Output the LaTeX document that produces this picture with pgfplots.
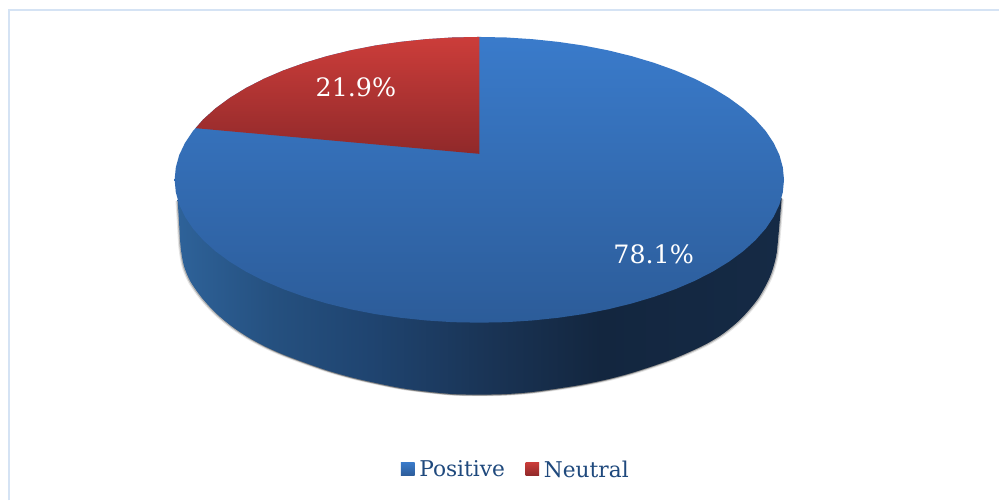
\documentclass[border=0pt]{standalone}
\usepackage{fontspec}
\setmainfont{DejaVu Serif}
\usepackage{pgfplots}
\usepackage{pgfplotstable}
\pgfplotsset{compat=1.18}
\definecolor{blueTop}{HTML}{3A7BCB}
\definecolor{blueBot}{HTML}{2C5C99}
\definecolor{redTop}{HTML}{CC3D3A}
\definecolor{redBot}{HTML}{90292A}
\definecolor{legendText}{HTML}{1F497D}
\definecolor{frameBlue}{HTML}{D5E3F4}
\definecolor{sideA}{HTML}{2E6299}
\definecolor{sideB}{HTML}{25507F}
\definecolor{sideC}{HTML}{1F4470}
\definecolor{sideD}{HTML}{1A3557}
\definecolor{sideE}{HTML}{13263F}
\definecolor{sideF}{HTML}{152A45}
\pgfdeclarehorizontalshading{sideshade}{100bp}{
 color(0bp)=(sideA);
 color(25bp)=(sideA);
 color(33bp)=(sideB);
 color(41bp)=(sideC);
 color(50bp)=(sideD);
 color(60bp)=(sideE);
 color(75bp)=(sideF);
 color(100bp)=(sideF)}
% Top face outline (image pixels)
\pgfplotstableread{
x y
784 180
782.8 192.5
779.4 204.8
773.6 217
765.6 228.9
755.4 240.4
743.1 251.5
728.8 262
712.6 271.9
694.7 281.1
675.1 289.5
653.9 297.1
631.5 303.8
607.9 309.6
583.3 314.4
557.9 318.1
532 320.8
505.6 322.5
479 323
452.4 322.5
426 320.8
400.1 318.1
374.7 314.4
350.1 309.6
326.5 303.8
304.1 297.1
282.9 289.5
263.3 281.1
245.4 271.9
229.2 262
214.9 251.5
202.6 240.4
192.4 228.9
184.4 217
178.6 204.8
175.2 192.5
174 180
175.2 167.5
178.6 155.2
184.4 143
192.4 131.1
202.6 119.6
214.9 108.5
229.2 98
245.4 88.1
263.3 78.9
282.9 70.5
304.1 62.9
326.5 56.2
350.1 50.4
374.7 45.6
400.1 41.9
426 39.2
452.4 37.5
479 37
505.6 37.5
532 39.2
557.9 41.9
583.3 45.6
607.9 50.4
631.5 56.2
653.9 62.9
675.1 70.5
694.7 78.9
712.6 88.1
728.8 98
743.1 108.5
755.4 119.6
765.6 131.1
773.6 143
779.4 155.2
782.8 167.5
}\toptable
% Neutral slice
\pgfplotstableread{
x y
479 154
195 128.3
202.6 119.6
214.9 108.5
229.2 98
245.4 88.1
263.3 78.9
282.9 70.5
304.1 62.9
326.5 56.2
350.1 50.4
374.7 45.6
400.1 41.9
426 39.2
452.4 37.5
479 37
}\redtable
% Side wall
\pgfplotstableread{
x y
781.7 198
778.3 237
776 257
770 277
758 299
741 319
723 334
706.7 344
690 352
671 360
651 367
629 374
606 380
582 385
557 389
531 392.5
505 394.5
479 395
453 394.5
427 392
401 388.5
376 383.5
352 378
329 371.5
307 364
283 355
265 347
248.3 338
231.7 327
216 314
202 299
190 282
183.3 266
180 247
178.3 220
177 200
}\sidetable
\begin{document}
\begin{tikzpicture}
\path[fill=white] (0,0) rectangle (750pt,375.75pt);
\begin{axis}[
  at={(0,0)}, anchor=south west,
  scale only axis, width=750pt, height=375.75pt,
  xmin=-0.8, xmax=999.2, ymin=0, ymax=501, y dir=reverse,
  hide axis, clip=false,
  legend columns=2,
  legend cell align=left,
  legend image code/.code={\path[#1] (0cm,-0.15cm) rectangle (0.36cm,0.21cm);},
  legend style={at={(0.5160,0.061)}, anchor=center, draw=none, fill=none,
    font=\fontsize{16.3pt}{20pt}\selectfont\color{legendText},
    /tikz/every even column/.append style={column sep=14.5pt},
    inner sep=0pt, nodes={inner sep=1pt}},
]
\addplot[forget plot, draw=frameBlue, line width=1.5pt] coordinates {(8.5,501)(8.5,10.5)(999.2,10.5)};
\addplot[forget plot, smooth, draw=none, fill=black, fill opacity=0.10, xshift=-1.6pt, yshift=-1pt] table {\sidetable} -- cycle;
\addplot[forget plot, smooth, draw=none, fill=black, fill opacity=0.10, xshift=1.6pt, yshift=-1.2pt] table {\sidetable} -- cycle;
\addplot[forget plot, smooth, draw=none, fill=black, fill opacity=0.22, xshift=-0.8pt, yshift=-0.6pt] table {\sidetable} -- cycle;
\addplot[forget plot, smooth, draw=none, fill=black, fill opacity=0.22, xshift=0.8pt, yshift=-0.7pt] table {\sidetable} -- cycle;
\addplot[forget plot, smooth, draw=none, shading=sideshade] table {\sidetable} -- cycle;
\addplot[forget plot, draw=none, top color=blueTop, bottom color=blueBot] table {\toptable} -- cycle;
\addplot[forget plot, draw=none, top color=redTop, bottom color=redBot] table {\redtable} -- cycle;
\addlegendimage{top color=blueTop, bottom color=blueBot, draw=none}
\addlegendentry{\hspace{2.5pt}Positive}
\addlegendimage{top color=redTop, bottom color=redBot, draw=none}
\addlegendentry{\hspace{2.5pt}Neutral}
\node[text=white, font=\fontsize{19pt}{22pt}\selectfont] at (axis cs:355.5,87) {21.9\%};
\node[text=white, font=\fontsize{19pt}{22pt}\selectfont] at (axis cs:653.5,255) {78.1\%};
\end{axis}
\path (0,0) rectangle (750pt,375.75pt);
\end{tikzpicture}
\end{document}
